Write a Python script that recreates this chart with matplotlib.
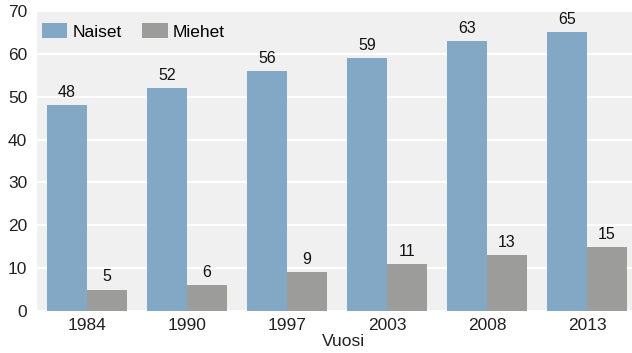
import matplotlib.pyplot as plt
import numpy as np

plt.rcParams['font.family'] = ['Liberation Sans', 'DejaVu Sans']

years = ['1984', '1990', '1997', '2003', '2008', '2013']
naiset = [48, 52, 56, 59, 63, 65]
miehet = [5, 6, 9, 11, 13, 15]

fig = plt.figure(figsize=(6.32, 3.53), dpi=100)
ax = fig.add_axes([37 / 632, 42 / 353, 1 - 37 / 632, 300 / 353])

x = np.arange(len(years))
w = 0.4
ax.set_facecolor('#F0F0F0')
ax.yaxis.grid(True, color='white', linewidth=1.5)
ax.set_axisbelow(True)

b1 = ax.bar(x - w / 2, naiset, w, color='#82A8C5', label='Naiset')
b2 = ax.bar(x + w / 2, miehet, w, color='#9C9C9A', label='Miehet')

for bars in (b1, b2):
    for b in bars:
        ax.text(b.get_x() + b.get_width() / 2, b.get_height() + 1.2, str(int(b.get_height())),
                ha='center', va='bottom', fontsize=11.5, color='#111111')

ax.set_xlim(-0.5, 5.45)
ax.set_ylim(0, 70)
ax.set_yticks(range(0, 71, 10))
ax.set_xticks(x)
ax.set_xticklabels(years)
ax.tick_params(length=0, labelsize=12.5, colors='#222222', pad=5)
ax.tick_params(axis='y', pad=7)
for s in ax.spines.values():
    s.set_visible(False)
ax.set_xlabel('Vuosi', fontsize=12.5, color='#222222')
ax.xaxis.set_label_coords(0.515, -0.078)

ax.legend(loc='upper left', ncol=2, frameon=False, fontsize=12.5, handlelength=1.45,
          handleheight=0.95, columnspacing=1.2, handletextpad=0.3,
          bbox_to_anchor=(-0.012, 1.0), borderaxespad=0.3)

fig.savefig('out.png', dpi=100)
